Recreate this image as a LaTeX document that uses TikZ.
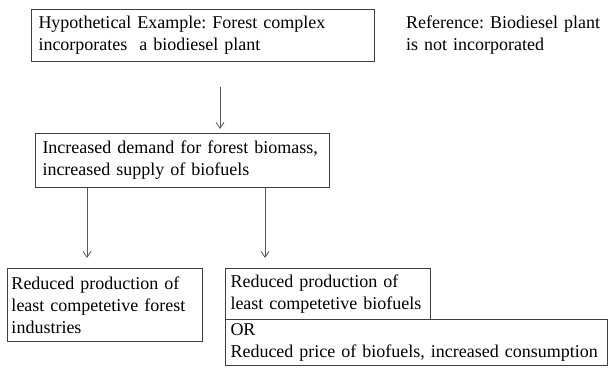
\documentclass[tikz,border=0pt]{standalone}
\usepackage{fontspec}
\setmainfont{Liberation Serif}
\usetikzlibrary{positioning,arrows.meta}
\frenchspacing

\begin{document}
\begin{tikzpicture}[x=1pt,y=-1pt,
  every node/.style={font=\fontsize{18}{22}\selectfont},
  box/.style={draw=black!75,line width=1pt,rectangle,anchor=north west,align=left,inner ysep=0pt},
  arr/.style={draw=black!65,line width=0.8pt,-{Straight Barb[length=6pt,width=8pt]}}]
\useasboundingbox (0,0) rectangle (616,374);
\node[box,inner xsep=7pt,minimum width=343pt,minimum height=52pt,text width=329pt] (hyp) at (31,9)
  {Hypothetical Example: Forest complex\\ incorporates\ \ a biodiesel plant};
\node[anchor=north west,align=left,inner xsep=0pt,inner ysep=0pt,minimum height=52pt,text width=210pt] (ref) at (406,9)
  {Reference: Biodiesel plant\\ is not incorporated};
\node[box,inner xsep=7pt,minimum width=294pt,minimum height=54pt,text width=280pt] (dem) at (35,133)
  {Increased demand for forest biomass,\\ increased supply of biofuels};
\node[box,inner xsep=4pt,minimum width=195pt,minimum height=73pt,text width=187pt] (forind) at (7,268)
  {Reduced production of\\ least competetive forest\\ industries};
\node[box,inner xsep=5pt,minimum width=205pt,minimum height=51pt,text width=195pt] (biored) at (225,268)
  {Reduced production of\\ least competetive biofuels};
\node[box,inner xsep=5pt,minimum width=382pt,minimum height=46pt,text width=372pt] (biopr) at (225,319)
  {OR\\ Reduced price of biofuels, increased consumption};
%
\coordinate (a1) at (220,87);
\coordinate (a2) at (220,129);
\coordinate (b1) at (87,258);
\coordinate (b2) at (265,258);
\draw[arr] (a1) -- (a2);
\draw[arr] (dem.south -| b1) -- (b1);
\draw[arr] (dem.south -| b2) -- (b2);
\end{tikzpicture}
\end{document}
